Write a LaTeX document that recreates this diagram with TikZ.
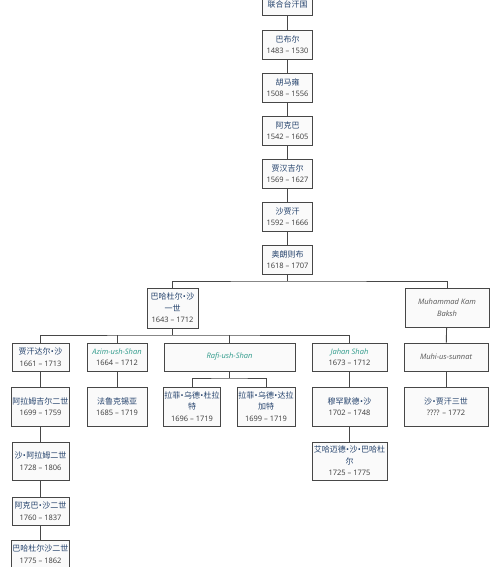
\documentclass[tikz,border=0pt]{standalone}
\usepackage{fontspec}
\setmainfont{Open Sans}
\newfontfamily\cjk{Noto Sans CJK SC}
\newfontfamily\latf{Open Sans}
\definecolor{boxc}{HTML}{474747}
\definecolor{boxf}{HTML}{FAFAFA}
\definecolor{namec}{HTML}{24426C}
\definecolor{datec}{HTML}{3A3A3A}
\definecolor{tealc}{HTML}{2E9A8A}
\definecolor{grayc}{HTML}{555555}
\newcommand\nm[1]{{\cjk\fontsize{8}{11.5}\selectfont\color{namec}#1}}
\newcommand\mdot{{\latf\kern0.3pt•\kern0.3pt}}
\newcommand\dt[1]{{\color{datec}#1}}
\newcommand\ent[1]{{\itshape\color{tealc}#1}}
\newcommand\eng[1]{{\itshape\color{grayc}#1}}
\begin{document}
\begin{tikzpicture}[x=1pt,y=-1pt,
  bx/.style={draw=boxc, fill=boxf, line width=0.9pt, align=center, inner sep=1pt,
             font=\fontsize{7.5}{11.5}\selectfont},
  ln/.style={draw=boxc, line width=0.9pt}]
\useasboundingbox (0,0) rectangle (500,567);
\fill[white] (0,0) rectangle (500,567);

% main chain
\node[bx, minimum width=50pt, minimum height=22pt] (top) at (287.5,4) {\nm{联合台汗国}};
\node[bx, minimum width=50pt, minimum height=29pt] (babur) at (287.5,44.5) {\nm{巴布尔}\\\dt{1483 – 1530}};
\node[bx, minimum width=50pt, minimum height=29pt] (huma) at (287.5,87.5) {\nm{胡马雍}\\\dt{1508 – 1556}};
\node[bx, minimum width=50pt, minimum height=29pt] (akbar) at (287.5,130.5) {\nm{阿克巴}\\\dt{1542 – 1605}};
\node[bx, minimum width=50pt, minimum height=29pt] (jahg) at (287.5,173.5) {\nm{贾汉吉尔}\\\dt{1569 – 1627}};
\node[bx, minimum width=50pt, minimum height=29pt] (shj) at (287.5,216.5) {\nm{沙贾汗}\\\dt{1592 – 1666}};
\node[bx, minimum width=50pt, minimum height=29pt] (aur) at (287.5,259.5) {\nm{奥朗则布}\\\dt{1618 – 1707}};

% level 2
\node[bx, minimum width=51pt, minimum height=40pt] (bah) at (172.5,308) {\nm{巴哈杜尔\mdot 沙}\\\nm{一世}\\\dt{1643 – 1712}};
\node[bx, minimum width=84pt, minimum height=39pt] (mkb) at (447,307.5) {\eng{Muhammad Kam}\\\eng{Baksh}};

% level 3
\node[bx, minimum width=57pt, minimum height=28pt] (jhd) at (40.5,357) {\nm{贾汗达尔\mdot 沙}\\\dt{1661 – 1713}};
\node[bx, minimum width=60pt, minimum height=28pt] (azim) at (117,357) {\ent{Azim-ush-Shan}\\\dt{1664 – 1712}};
\node[bx, minimum width=131pt, minimum height=28pt] (rafi) at (229.5,357) {\ent{Rafi-ush-Shan}};
\node[bx, minimum width=75pt, minimum height=28pt] (jahan) at (349.5,357) {\ent{Jahan Shah}\\\dt{1673 – 1712}};
\node[bx, minimum width=84pt, minimum height=28pt] (muhi) at (446,357) {\eng{Muhi-us-sunnat}};

% level 4
\node[bx, minimum width=57pt, minimum height=39pt] (alam) at (40.5,406.5) {\nm{阿拉姆吉尔二世}\\\dt{1699 – 1759}};
\node[bx, minimum width=60pt, minimum height=39pt] (farr) at (117,406.5) {\nm{法鲁克锡亚}\\\dt{1685 – 1719}};
\node[bx, minimum width=56pt, minimum height=39pt] (rafa) at (192,406.5) {\nm{拉菲\mdot 乌德\mdot 杜拉}\\\nm{特}\\\dt{1696 – 1719}};
\node[bx, minimum width=58pt, minimum height=39pt] (rafb) at (266,406.5) {\nm{拉菲\mdot 乌德\mdot 达拉}\\\nm{加特}\\\dt{1699 – 1719}};
\node[bx, minimum width=75pt, minimum height=39pt] (mhs) at (349.5,406.5) {\nm{穆罕默德\mdot 沙}\\\dt{1702 – 1748}};
\node[bx, minimum width=84pt, minimum height=39pt] (sj3) at (446,406.5) {\nm{沙\mdot 贾汗三世}\\\dt{???? – 1772}};

% level 5
\node[bx, minimum width=57pt, minimum height=38pt] (shal) at (40.5,461) {\nm{沙\mdot 阿拉姆二世}\\\dt{1728 – 1806}};
\node[bx, minimum width=75pt, minimum height=38pt] (ahm) at (349.5,461) {\nm{艾哈迈德\mdot 沙\mdot 巴哈杜}\\\nm{尔}\\\dt{1725 – 1775}};

% level 6, 7
\node[bx, minimum width=57pt, minimum height=28pt] (aks) at (40.5,511) {\nm{阿克巴\mdot 沙二世}\\\dt{1760 – 1837}};
\node[bx, minimum width=57pt, minimum height=28pt] (bhs) at (40.5,554) {\nm{巴哈杜尔沙二世}\\\dt{1775 – 1862}};

% connectors: chain
\draw[ln] (top) -- (babur);
\draw[ln] (babur) -- (huma);
\draw[ln] (huma) -- (akbar);
\draw[ln] (akbar) -- (jahg);
\draw[ln] (jahg) -- (shj);
\draw[ln] (shj) -- (aur);

\coordinate (j1) at (287.5,281);
\draw[ln] (aur.south) -- (j1);
\draw[ln] (bah.north) |- (j1) -| (mkb.north);

\coordinate (j2) at (172.5,335);
\draw[ln] (bah.south) -- (j2);
\draw[ln] (jhd.north) |- (j2) -| (jahan.north);
\draw[ln] (azim.north) -- (azim.north |- j2);
\draw[ln] (rafi.north) -- (rafi.north |- j2);
\draw[ln] (mkb) -- (muhi);

\coordinate (j3) at (229.5,378);
\draw[ln] (rafi.south) -- (j3);
\draw[ln] (rafa.north) |- (j3) -| (rafb.north);

\draw[ln] (jhd) -- (alam);
\draw[ln] (alam) -- (shal);
\draw[ln] (shal) -- (aks);
\draw[ln] (aks) -- (bhs);
\draw[ln] (azim) -- (farr);
\draw[ln] (jahan) -- (mhs);
\draw[ln] (mhs) -- (ahm);
\draw[ln] (muhi) -- (sj3);
\end{tikzpicture}
\end{document}
